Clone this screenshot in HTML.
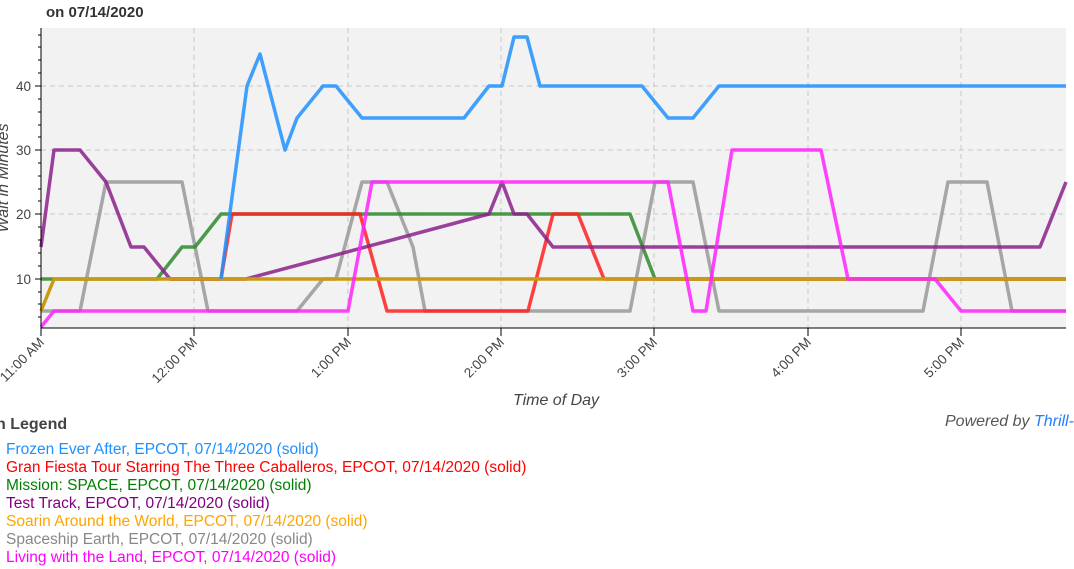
<!DOCTYPE html>
<html><head><style>
body{margin:0;width:1074px;height:569px;overflow:hidden;background:#fff;font-family:"Liberation Sans",sans-serif;position:relative}
.t{position:absolute;white-space:nowrap}
.lg{position:absolute;left:6px;font-size:15.5px;white-space:nowrap}
</style></head><body>
<svg width="1074" height="569" style="position:absolute;left:0;top:0" font-family="Liberation Sans">
<rect x="41" y="28" width="1025" height="300" fill="#f2f2f2"/>
<g stroke="#c8c8c8" stroke-dasharray="5,4" stroke-width="1">
<line x1="41" x2="1066" y1="86" y2="86"/><line x1="41" x2="1066" y1="150" y2="150"/><line x1="41" x2="1066" y1="214" y2="214"/><line x1="41" x2="1066" y1="279" y2="279"/>
<line x1="194" x2="194" y1="28" y2="328"/><line x1="348" x2="348" y1="28" y2="328"/><line x1="501" x2="501" y1="28" y2="328"/><line x1="654" x2="654" y1="28" y2="328"/><line x1="808" x2="808" y1="28" y2="328"/><line x1="961" x2="961" y1="28" y2="328"/>
</g>
<g fill="none" stroke-width="3.5" stroke-linejoin="round" stroke-opacity="0.85">
<polyline stroke="#999" points="41,311 80,311 106,182 182,182 208,311 297,311 323,279 336,279 362,182 387,182 413,247 425,311 630,311 655,182 693,182 719,311 923,311 948,182 987,182 1012,311 1066,311"/>
<polyline stroke="#2e8b2e" points="41,279 157,279 182,247 195,247 221,214 630,214 655,279 1066,279"/>
<polyline stroke="#ff2020" points="170,279 221,279 232,214 360,214 387,311 528,311 553,214 578,214 604,279 1066,279"/>
<polyline stroke="#8b218b" points="41,247 54,150 80,150 106,182 131,247 144,247 170,279 246,279 489,214 502,182 514,214 527,214 553,247 1040,247 1066,182"/>
<polyline stroke="#c99a12" stroke-opacity="1" points="41,311 54,279 1066,279"/>
<polyline stroke="#1e90ff" points="221,279 247,86 260,54 285,150 297,118 323,86 336,86 362,118 464,118 489,86 502,86 514,37 527,37 540,86 642,86 668,118 693,118 719,86 1066,86"/>
<polyline stroke="#ff22ff" points="41,327 54,311 348,311 372,182 668,182 693,311 706,311 732,150 821,150 848,279 935,279 961,311 1066,311"/>
</g>
<line x1="41" y1="28" x2="41" y2="328" stroke="#000"/>
<line x1="41" y1="328" x2="1066" y2="328" stroke="#000"/>
<g stroke="#000">
<line x1="35" x2="41" y1="86" y2="86"/><line x1="35" x2="41" y1="150" y2="150"/><line x1="35" x2="41" y1="214" y2="214"/><line x1="35" x2="41" y1="279" y2="279"/>
<line x1="38" x2="41" y1="35" y2="35"/><line x1="38" x2="41" y1="47" y2="47"/><line x1="38" x2="41" y1="60" y2="60"/><line x1="38" x2="41" y1="73" y2="73"/>
<line x1="38" x2="41" y1="99" y2="99"/><line x1="38" x2="41" y1="112" y2="112"/><line x1="38" x2="41" y1="125" y2="125"/><line x1="38" x2="41" y1="137" y2="137"/>
<line x1="38" x2="41" y1="163" y2="163"/><line x1="38" x2="41" y1="176" y2="176"/><line x1="38" x2="41" y1="189" y2="189"/><line x1="38" x2="41" y1="201" y2="201"/>
<line x1="38" x2="41" y1="227" y2="227"/><line x1="38" x2="41" y1="240" y2="240"/><line x1="38" x2="41" y1="253" y2="253"/><line x1="38" x2="41" y1="266" y2="266"/>
<line x1="38" x2="41" y1="292" y2="292"/><line x1="38" x2="41" y1="304" y2="304"/><line x1="38" x2="41" y1="317" y2="317"/>
<line x1="41" x2="41" y1="328" y2="336"/><line x1="194" x2="194" y1="328" y2="336"/><line x1="348" x2="348" y1="328" y2="336"/><line x1="501" x2="501" y1="328" y2="336"/><line x1="654" x2="654" y1="328" y2="336"/><line x1="808" x2="808" y1="328" y2="336"/><line x1="961" x2="961" y1="328" y2="336"/>
</g>
<g font-size="13.5" fill="#444" text-anchor="end">
<text x="31" y="91">40</text><text x="31" y="155">30</text><text x="31" y="219">20</text><text x="31" y="284">10</text>
<text transform="translate(45,343) rotate(-45)">11:00 AM</text>
<text transform="translate(198,343) rotate(-45)">12:00 PM</text>
<text transform="translate(352,343) rotate(-45)">1:00 PM</text>
<text transform="translate(505,343) rotate(-45)">2:00 PM</text>
<text transform="translate(658,343) rotate(-45)">3:00 PM</text>
<text transform="translate(812,343) rotate(-45)">4:00 PM</text>
<text transform="translate(965,343) rotate(-45)">5:00 PM</text>
</g>
<text transform="translate(8,178) rotate(-90)" text-anchor="middle" font-size="16" font-style="italic" fill="#444">Wait in Minutes</text>
<text x="556" y="405" text-anchor="middle" font-size="16" font-style="italic" fill="#444">Time of Day</text>
</svg>
<div class="t" style="left:46px;top:4px;font-size:15px;font-weight:bold;color:#333">on 07/14/2020</div>
<div class="t" style="left:-4px;top:416px;font-size:16px;font-weight:bold;color:#444">n Legend</div>
<div class="t" style="left:945px;top:413px;font-size:16px;font-style:italic;color:#555">Powered by <span style="color:#1e7fff">Thrill-Data</span></div>
<div class="lg" style="top:441px;color:#1e90ff">Frozen Ever After, EPCOT, 07/14/2020 (solid)</div>
<div class="lg" style="top:459px;color:#ff0000">Gran Fiesta Tour Starring The Three Caballeros, EPCOT, 07/14/2020 (solid)</div>
<div class="lg" style="top:477px;color:#008000">Mission: SPACE, EPCOT, 07/14/2020 (solid)</div>
<div class="lg" style="top:495px;color:#800080">Test Track, EPCOT, 07/14/2020 (solid)</div>
<div class="lg" style="top:513px;color:#ffa500">Soarin Around the World, EPCOT, 07/14/2020 (solid)</div>
<div class="lg" style="top:531px;color:#888">Spaceship Earth, EPCOT, 07/14/2020 (solid)</div>
<div class="lg" style="top:549px;color:#ff00ff">Living with the Land, EPCOT, 07/14/2020 (solid)</div>
</body></html>
